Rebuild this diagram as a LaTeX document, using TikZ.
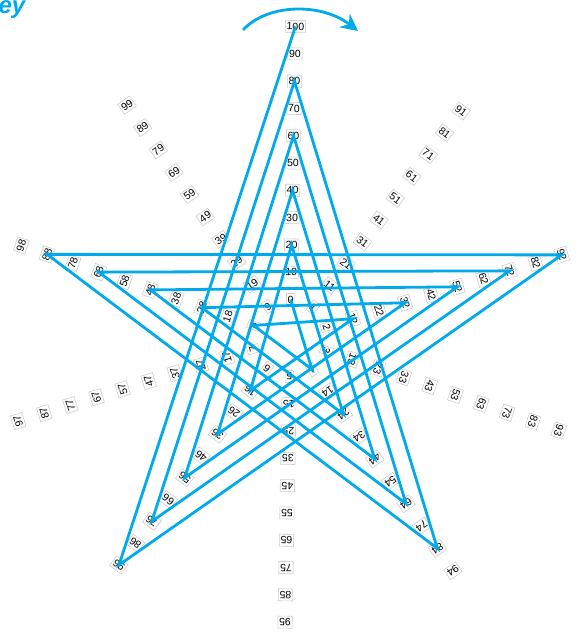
\documentclass[tikz,border=0pt]{standalone}
\usepackage{fontspec}
\setmainfont{Liberation Sans}
\usetikzlibrary{arrows.meta}
\definecolor{starblue}{RGB}{0,170,235}
\definecolor{boxgray}{RGB}{205,205,205}
\begin{document}
\begin{tikzpicture}[x=1pt,y=1pt,
  numlbl/.style={draw=boxgray, line width=0.6pt, fill=white, inner sep=1.3pt,
    minimum height=12pt, font=\fontsize{10.5}{10.5}\selectfont, text=black},
  starline/.style={draw=starblue, line width=2.8pt, line join=miter},
  ]
\useasboundingbox (0,0) rectangle (579,636);
\foreach \d in {0,...,9}{
  \pgfmathsetmacro\ang{89-36*\d}
  \pgfmathtruncatemacro\kmax{\d==0 ? 10 : 9}
  \foreach \k in {0,...,\kmax}{
    \pgfmathsetmacro\rr{38.5+27.3*\k}
    \pgfmathtruncatemacro\n{\d+10*\k}
    \pgfmathsetmacro\px{290+\rr*cos(\ang)}
    \pgfmathsetmacro\py{298+\rr*sin(\ang)}
    \node[numlbl, rotate=\ang-90] (n\n) at (\px,\py) {\n};
  }
}
\draw[starline] (n100.center) -- (n96.center) -- (n92.center) -- (n88.center)
  -- (n84.center) -- (n80.center) -- (n76.center) -- (n72.center)
  -- (n68.center) -- (n64.center) -- (n60.center) -- (n56.center)
  -- (n52.center) -- (n48.center) -- (n44.center) -- (n40.center)
  -- (n36.center) -- (n32.center) -- (n28.center) -- (n24.center)
  -- (n20.center) -- (n16.center) -- (n12.center) -- (n8.center)
  -- (n4.center) -- (n0.center);
\coordinate (arcS) at (243,606);
\coordinate (arcE) at (358,605);
\draw[starblue, line width=2.8pt, -{Stealth[length=17pt,width=17pt]}]
  (arcS) .. controls (268,633) and (322,633) .. (arcE);
\node[text=starblue, font=\fontsize{24}{24}\selectfont\bfseries\itshape,
  anchor=base west] (kw) at (-5,622) {ey};
\end{tikzpicture}
\end{document}
